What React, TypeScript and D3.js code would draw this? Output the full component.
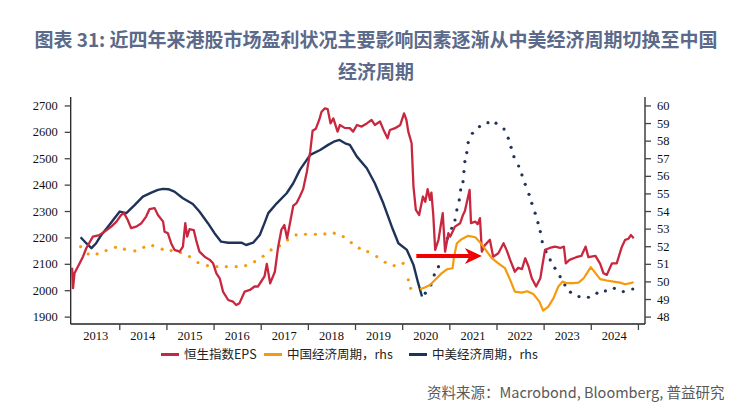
import React, { useRef, useEffect } from "react";
import * as d3 from "d3";

type Pt = [number, number];

// 恒生指数EPS (left axis)
const hsiEps: Pt[] = [
  [2013.0, 2085], [2013.02, 2008], [2013.05, 2064], [2013.16, 2102], [2013.23, 2127], [2013.3, 2159],
  [2013.44, 2203], [2013.58, 2209], [2013.69, 2222], [2013.83, 2241], [2013.94, 2260], [2014.04, 2285],
  [2014.1, 2292], [2014.18, 2266], [2014.25, 2235], [2014.36, 2241], [2014.47, 2254], [2014.57, 2279],
  [2014.64, 2307], [2014.75, 2311], [2014.82, 2285], [2014.93, 2260], [2014.96, 2222], [2015.03, 2216],
  [2015.1, 2178], [2015.17, 2153], [2015.28, 2146], [2015.35, 2165], [2015.4, 2254], [2015.44, 2203],
  [2015.49, 2231], [2015.58, 2228], [2015.63, 2190], [2015.7, 2146], [2015.81, 2127], [2015.92, 2115],
  [2015.99, 2102], [2016.06, 2064], [2016.13, 2045], [2016.2, 1995], [2016.31, 1963], [2016.41, 1957],
  [2016.48, 1944], [2016.55, 1951], [2016.66, 1995], [2016.77, 2001], [2016.87, 2014], [2016.94, 2014],
  [2017.01, 2033], [2017.08, 2052], [2017.13, 2100], [2017.2, 2026], [2017.3, 2070], [2017.37, 2165],
  [2017.44, 2230], [2017.5, 2247], [2017.56, 2197], [2017.62, 2254], [2017.69, 2320], [2017.76, 2330],
  [2017.83, 2355], [2017.9, 2383], [2017.98, 2450], [2018.05, 2525], [2018.1, 2604], [2018.17, 2612],
  [2018.24, 2645], [2018.29, 2676], [2018.36, 2689], [2018.42, 2686], [2018.48, 2632], [2018.54, 2651],
  [2018.63, 2601], [2018.68, 2626], [2018.78, 2615], [2018.89, 2614], [2018.96, 2601], [2019.04, 2626],
  [2019.14, 2620], [2019.25, 2632], [2019.35, 2645], [2019.42, 2626], [2019.53, 2639], [2019.62, 2601],
  [2019.69, 2576], [2019.74, 2607], [2019.85, 2614], [2019.96, 2626], [2020.04, 2670], [2020.09, 2645],
  [2020.13, 2601], [2020.2, 2557], [2020.24, 2392], [2020.29, 2304], [2020.36, 2285], [2020.44, 2355],
  [2020.49, 2335], [2020.54, 2383], [2020.59, 2342], [2020.62, 2370], [2020.66, 2285], [2020.7, 2153],
  [2020.77, 2191], [2020.86, 2292], [2020.91, 2146], [2020.98, 2216], [2021.02, 2203], [2021.12, 2241],
  [2021.23, 2254], [2021.29, 2285], [2021.33, 2300], [2021.38, 2340], [2021.43, 2380], [2021.46, 2254],
  [2021.55, 2260], [2021.6, 2250], [2021.65, 2273], [2021.69, 2146], [2021.75, 2170], [2021.86, 2191],
  [2021.93, 2127], [2022.04, 2140], [2022.15, 2178], [2022.22, 2150], [2022.29, 2115], [2022.39, 2070],
  [2022.46, 2085], [2022.54, 2080], [2022.61, 2121], [2022.68, 2090], [2022.75, 2045], [2022.84, 2014],
  [2022.93, 2045], [2022.97, 2090], [2023.03, 2153], [2023.13, 2160], [2023.24, 2165], [2023.35, 2160],
  [2023.43, 2165], [2023.47, 2102], [2023.55, 2115], [2023.69, 2125], [2023.8, 2130], [2023.89, 2165],
  [2023.95, 2125], [2024.1, 2130], [2024.2, 2100], [2024.27, 2064], [2024.34, 2058], [2024.45, 2102],
  [2024.55, 2102], [2024.66, 2165], [2024.73, 2191], [2024.8, 2195], [2024.85, 2209], [2024.91, 2197],
];

// 中国经济周期, rhs — dotted part (before 2020) and solid part
const chinaCycleEarly: Pt[] = [
  [2013.18, 51.98], [2013.34, 51.56], [2013.53, 51.56], [2013.72, 51.75], [2013.92, 51.94], [2014.11, 51.83],
  [2014.33, 51.73], [2014.52, 51.94], [2014.71, 52.03], [2014.91, 51.83], [2015.1, 51.75], [2015.3, 51.64],
  [2015.49, 51.41], [2015.67, 51.07], [2015.87, 50.9], [2016.07, 50.84], [2016.27, 50.84], [2016.48, 50.84],
  [2016.68, 50.9], [2016.87, 51.12], [2017.05, 51.43], [2017.22, 51.79], [2017.4, 52.02], [2017.57, 52.36],
  [2017.75, 52.64], [2017.95, 52.68], [2018.16, 52.68], [2018.36, 52.7], [2018.56, 52.74], [2018.75, 52.55],
  [2018.92, 52.2], [2019.09, 51.89], [2019.27, 51.69], [2019.46, 51.41], [2019.64, 51.09], [2019.83, 50.9],
  [2020.02, 51.03], [2020.13, 50.09], [2020.18, 49.61],
];
const chinaCycle: Pt[] = [
  [2020.38, 49.56], [2020.49, 49.67], [2020.59, 49.8], [2020.7, 50.09], [2020.84, 50.47], [2020.95, 50.69],
  [2021.07, 50.75], [2021.1, 51.41], [2021.16, 52.17], [2021.26, 52.4], [2021.4, 52.59], [2021.55, 52.51],
  [2021.64, 52.26], [2021.76, 51.83], [2021.9, 51.32], [2022.04, 51.03], [2022.18, 50.75], [2022.29, 50.09],
  [2022.39, 49.42], [2022.54, 49.36], [2022.65, 49.44], [2022.78, 49.29], [2022.91, 48.85], [2022.99, 48.34],
  [2023.1, 48.57], [2023.21, 49.05], [2023.31, 49.7], [2023.4, 49.99], [2023.49, 49.9], [2023.63, 49.9],
  [2023.74, 49.93], [2023.85, 50.18], [2023.94, 50.56], [2024.0, 50.81], [2024.1, 50.47], [2024.2, 50.13],
  [2024.34, 50.05], [2024.48, 49.99], [2024.62, 49.93], [2024.73, 49.84], [2024.84, 49.9], [2024.91, 49.95],
];

// 中美经济周期, rhs — solid part and dotted part (after 2020)
const sinoUsCycle: Pt[] = [
  [2013.18, 52.51], [2013.3, 52.17], [2013.41, 51.89], [2013.51, 52.17], [2013.62, 52.64], [2013.76, 53.11],
  [2013.87, 53.49], [2014.01, 53.97], [2014.15, 53.88], [2014.33, 54.35], [2014.5, 54.82], [2014.68, 55.05],
  [2014.82, 55.2], [2014.93, 55.26], [2015.04, 55.24], [2015.17, 55.1], [2015.35, 54.73], [2015.56, 54.4],
  [2015.7, 53.97], [2015.88, 53.31], [2016.02, 52.74], [2016.16, 52.26], [2016.31, 52.2], [2016.45, 52.2],
  [2016.59, 52.2], [2016.69, 52.07], [2016.84, 52.2], [2016.98, 52.64], [2017.08, 53.31], [2017.16, 53.88],
  [2017.34, 54.44], [2017.55, 55.01], [2017.69, 55.58], [2017.83, 56.34], [2018.05, 57.19], [2018.26, 57.47],
  [2018.43, 57.76], [2018.55, 57.94], [2018.67, 58.04], [2018.79, 57.85], [2018.89, 57.76], [2019.04, 57.09],
  [2019.25, 56.43], [2019.42, 55.58], [2019.6, 54.44], [2019.78, 53.11], [2019.92, 52.17], [2020.1, 51.79],
  [2020.24, 50.94], [2020.34, 49.9], [2020.42, 49.14],
];
const sinoUsCycleLate: Pt[] = [
  [2020.49, 49.33], [2020.61, 49.8], [2020.68, 50.37], [2020.77, 50.84], [2020.86, 51.41], [2020.96, 52.45],
  [2021.05, 53.02], [2021.12, 53.49], [2021.16, 54.06], [2021.21, 54.63], [2021.24, 55.2], [2021.29, 55.67],
  [2021.31, 56.24], [2021.33, 56.81], [2021.37, 57.32], [2021.4, 57.89], [2021.49, 58.42], [2021.64, 58.8],
  [2021.82, 59.02], [2021.99, 58.99], [2022.16, 58.66], [2022.25, 58.14], [2022.31, 57.62], [2022.37, 57.09],
  [2022.47, 56.56], [2022.54, 56.05], [2022.61, 55.52], [2022.69, 54.95], [2022.75, 54.44], [2022.82, 53.88],
  [2022.88, 53.34], [2022.93, 52.83], [2022.97, 52.26], [2023.05, 51.69], [2023.14, 51.22], [2023.24, 50.75],
  [2023.35, 50.27], [2023.45, 49.8], [2023.57, 49.39], [2023.75, 49.14], [2023.95, 49.1], [2024.13, 49.33],
  [2024.31, 49.46], [2024.5, 49.61], [2024.69, 49.42], [2024.89, 49.57],
];

const years = [2013, 2014, 2015, 2016, 2017, 2018, 2019, 2020, 2021, 2022, 2023, 2024];
const leftTicks = [1900, 2000, 2100, 2200, 2300, 2400, 2500, 2600, 2700];
const rightTicks = [48, 49, 50, 51, 52, 53, 54, 55, 56, 57, 58, 59, 60];
// arrow annotation, in (year, rhs) coordinates
const arrowFrom: Pt = [2020.3, 51.45];
const arrowTo: Pt = [2021.69, 51.45];

const legendItems = [
  { label: "恒生指数EPS", color: "#c8283f" },
  { label: "中国经济周期，rhs", color: "#f59a0c" },
  { label: "中美经济周期，rhs", color: "#1f3358" },
];

const RED = "#c8283f";
const ORANGE = "#f59a0c";
const NAVY = "#1f3358";

export default function App() {
  const svgRef = useRef<SVGSVGElement>(null);

  useEffect(() => {
    if (!svgRef.current) return;
    const svg = d3.select(svgRef.current);
    svg.selectAll("*").remove();

    const left = 70.7, right = 645, top = 97, bottom = 324;
    const x = d3.scaleLinear().domain([2012.97, 2025.15]).range([left, right]);
    const yL = d3.scaleLinear().domain([1872, 2732]).range([bottom, top]);
    const yR = d3.scaleLinear().domain([47.58, 60.48]).range([bottom, top]);

    // title
    const title = svg.append("g")
      .attr("font-family", "'Noto Sans CJK SC', sans-serif")
      .attr("font-weight", "bold")
      .attr("font-size", 19)
      .attr("fill", "#5b6a8a")
      .attr("text-anchor", "middle");
    title.append("text").attr("x", 376).attr("y", 47)
      .text("图表 31: 近四年来港股市场盈利状况主要影响因素逐渐从中美经济周期切换至中国");
    title.append("text").attr("x", 376).attr("y", 79).text("经济周期");

    const axisFont = "'Liberation Serif', 'Times New Roman', serif";

    // left axis
    const gl = svg.append("g")
      .attr("transform", `translate(${left},0)`)
      .call(d3.axisLeft(yL).tickValues(leftTicks).tickSize(6).tickPadding(7).tickFormat(d3.format("d")));
    // right axis
    const gr = svg.append("g")
      .attr("transform", `translate(${right},0)`)
      .call(d3.axisRight(yR).tickValues(rightTicks).tickSize(6).tickPadding(6).tickFormat(d3.format("d")));
    // bottom axis: ticks at year boundaries, labels in the middle of each year
    const gb = svg.append("g")
      .attr("transform", `translate(0,${bottom})`)
      .call(d3.axisBottom(x).tickValues(years.map(y => y + 1)).tickSize(6).tickFormat(() => ""));
    for (const g of [gl, gr, gb]) {
      g.select(".domain").attr("stroke", "#222").attr("stroke-width", 1.3);
      g.selectAll(".tick line").attr("stroke", "#444").attr("stroke-width", 1.3);
      g.selectAll("text").attr("font-family", axisFont).attr("font-size", 12.5).attr("fill", "#111");
    }
    gl.select(".domain").attr("d", `M0,${top}V${bottom}`);
    gr.select(".domain").attr("d", `M0,${top}V${bottom}`);
    gb.select(".domain").attr("d", `M${left},0H${right}`);
    svg.append("g")
      .selectAll("text")
      .data(years)
      .join("text")
      .attr("x", d => x(d + 0.5))
      .attr("y", bottom + 16)
      .attr("text-anchor", "middle")
      .attr("font-family", axisFont)
      .attr("font-size", 12.5)
      .attr("fill", "#111")
      .text(d => String(d));

    const lineL = d3.line<Pt>().x(d => x(d[0])).y(d => yL(d[1]));
    const lineR = d3.line<Pt>().x(d => x(d[0])).y(d => yR(d[1]));

    // dotted series: one dot per observation
    svg.append("g").selectAll("circle")
      .data(chinaCycleEarly)
      .join("circle")
      .attr("cx", d => x(d[0]))
      .attr("cy", d => yR(d[1]))
      .attr("r", 1.6)
      .attr("fill", ORANGE);
    svg.append("g").selectAll("circle")
      .data(sinoUsCycleLate)
      .join("circle")
      .attr("cx", d => x(d[0]))
      .attr("cy", d => yR(d[1]))
      .attr("r", 1.6)
      .attr("fill", NAVY);

    svg.append("path").datum(sinoUsCycle)
      .attr("fill", "none").attr("stroke", NAVY).attr("stroke-width", 2.4)
      .attr("stroke-linejoin", "round").attr("d", lineR);
    svg.append("path").datum(hsiEps)
      .attr("fill", "none").attr("stroke", RED).attr("stroke-width", 2.3)
      .attr("stroke-linejoin", "round").attr("d", lineL);
    svg.append("path").datum(chinaCycle)
      .attr("fill", "none").attr("stroke", ORANGE).attr("stroke-width", 2.2)
      .attr("stroke-linejoin", "round").attr("d", lineR);

    // red arrow
    const ax0 = x(arrowFrom[0]), ay0 = yR(arrowFrom[1]);
    const ax1 = x(arrowTo[0]), ay1 = yR(arrowTo[1]);
    svg.append("line")
      .attr("x1", ax0).attr("y1", ay0).attr("x2", ax1 - 12).attr("y2", ay1)
      .attr("stroke", "#f00000").attr("stroke-width", 4);
    svg.append("path")
      .attr("d", `M${ax1},${ay1}L${ax1 - 17},${ay1 - 8}L${ax1 - 12},${ay1}L${ax1 - 17},${ay1 + 8}Z`)
      .attr("fill", "#f00000");

    // legend
    const legendX = [161, 264, 409];
    const lg = svg.append("g").attr("font-family", "'Noto Sans CJK SC', sans-serif").attr("font-size", 12.5);
    legendItems.forEach((item, i) => {
      lg.append("line")
        .attr("x1", legendX[i]).attr("x2", legendX[i] + 18)
        .attr("y1", 354.5).attr("y2", 354.5)
        .attr("stroke", item.color).attr("stroke-width", 3);
      lg.append("text")
        .attr("x", legendX[i] + 23).attr("y", 359)
        .attr("fill", "#222")
        .text(item.label);
    });

    // source
    svg.append("text")
      .attr("x", 427).attr("y", 398)
      .attr("font-family", "'Noto Sans CJK SC', sans-serif")
      .attr("font-size", 14.5)
      .attr("fill", "#595959")
      .text("资料来源：Macrobond, Bloomberg, 普益研究");
  }, []);

  return (
    <svg
      ref={svgRef}
      width={751}
      height={418}
      viewBox="0 0 751 418"
      style={{ position: "absolute", left: 0, top: 0, background: "#fff" }}
    />
  );
}
